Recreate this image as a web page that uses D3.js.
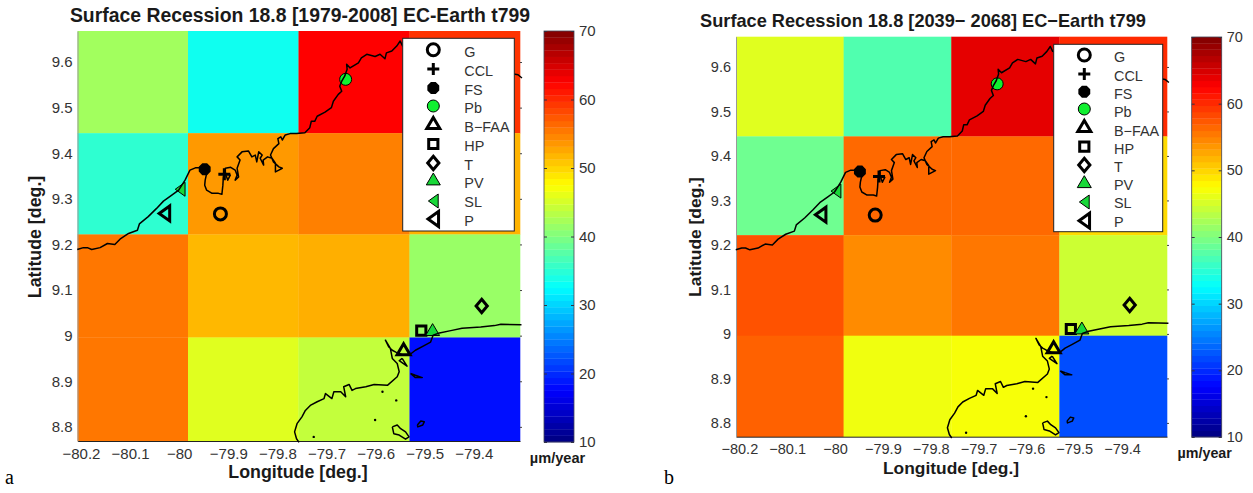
<!DOCTYPE html>
<html>
<head>
<meta charset="utf-8">
<script src="https://cdn.jsdelivr.net/npm/d3@7"></script>
<style>
  html, body { margin: 0; padding: 0; background: #fff; }
  svg { display: block; }
  text { font-family: "Liberation Sans", Arial, sans-serif; }
</style>
</head>
<body>
<div id="chart"></div>
<script>
// grid cell edges, degrees
var lonEdges = [-80.207, -79.982, -79.757, -79.531, -79.306];
var latEdges = [9.668, 9.444, 9.222, 8.996, 8.769];

// surface recession per grid cell, um/year, north to south
var recessionA = [
  [42, 33.4, 62.5, 59.5],
  [35.2, 53.5, 55, 52],
  [55.5, 51.7, 52.2, 41.5],
  [55.5, 45.7, 44, 18.3]
];
var recessionB = [
  [45.7, 37.2, 64, 60],
  [39, 56.3, 56.3, 49.7],
  [57.7, 54.3, 55.5, 44.5],
  [56.8, 46.6, 47, 22]
];

var lonTicks = [-80.2, -80.1, -80, -79.9, -79.8, -79.7, -79.6, -79.5, -79.4];
var latTicks = [8.8, 8.9, 9, 9.1, 9.2, 9.3, 9.4, 9.5, 9.6];
var barTicks = [10, 20, 30, 40, 50, 60, 70];

var siteNames = ["G", "CCL", "FS", "Pb", "B\u2212FAA", "HP", "T", "PV", "SL", "P"];
var siteLons = [-79.916, -79.908, -79.948, -79.661, -79.543, -79.507, -79.384, -79.484, -79.998, -80.030];
var siteLats = [9.267, 9.354, 9.365, 9.562, 8.968, 9.011, 9.065, 9.011, 9.321, 9.268];

// coast, lon/lat pairs
var coastNorth = [
  [-80.2075,9.189],[-80.195,9.193],[-80.187,9.193],[-80.178,9.189],[-80.161,9.193],[-80.146,9.202],
  [-80.131,9.200],[-80.119,9.213],[-80.103,9.224],[-80.085,9.231],[-80.081,9.245],[-80.063,9.261],
  [-80.046,9.279],[-80.032,9.295],[-80.015,9.308],[-80.001,9.319],[-79.988,9.341],[-79.978,9.363],
  [-79.967,9.368],[-79.957,9.368],[-79.949,9.368],[-79.944,9.356],[-79.947,9.341],[-79.948,9.330],
  [-79.944,9.319],[-79.933,9.312],[-79.920,9.312],[-79.913,9.310],[-79.911,9.330],[-79.910,9.348],
  [-79.906,9.356],[-79.901,9.341],[-79.896,9.352],[-79.906,9.356],[-79.906,9.367],[-79.895,9.369],
  [-79.886,9.363],[-79.882,9.352],[-79.886,9.341],[-79.879,9.348],[-79.882,9.367],[-79.876,9.385],
  [-79.882,9.392],[-79.872,9.403],[-79.859,9.405],[-79.852,9.392],[-79.845,9.396],[-79.842,9.381],
  [-79.838,9.403],[-79.831,9.396],[-79.835,9.389],[-79.828,9.374],[-79.829,9.385],[-79.820,9.392],
  [-79.811,9.389],[-79.804,9.378],[-79.804,9.359],[-79.797,9.363],[-79.790,9.367],[-79.797,9.370],
  [-79.808,9.381],[-79.814,9.396],[-79.808,9.410],[-79.797,9.421],[-79.799,9.432],[-79.793,9.436],
  [-79.790,9.429],[-79.784,9.440],[-79.774,9.443],[-79.761,9.443],[-79.744,9.445],[-79.734,9.456],
  [-79.731,9.470],[-79.724,9.470],[-79.719,9.481],[-79.703,9.490],[-79.690,9.500],[-79.686,9.514],
  [-79.676,9.529],[-79.669,9.536],[-79.673,9.547],[-79.669,9.558],[-79.663,9.569],[-79.658,9.584],
  [-79.659,9.595],[-79.652,9.587],[-79.635,9.598],[-79.629,9.609],[-79.618,9.617],[-79.601,9.612],
  [-79.591,9.617],[-79.581,9.607],[-79.578,9.620],[-79.567,9.624],[-79.557,9.635],[-79.550,9.646],
  [-79.545,9.635],[-79.45,9.60],[-79.31,9.572],[-79.302,9.565]
];
var coastSouth = [
  [-79.303,9.024],[-79.345,9.025],[-79.358,9.022],[-79.386,9.019],[-79.424,9.016],[-79.447,9.011],
  [-79.470,9.006],[-79.483,9.001],[-79.488,8.986],[-79.505,8.976],[-79.519,8.968],[-79.532,8.957],
  [-79.546,8.958],[-79.559,8.964],[-79.566,8.968],[-79.573,8.975],[-79.580,8.990],[-79.570,8.972],
  [-79.566,8.950],[-79.556,8.939],[-79.552,8.921],[-79.556,8.910],[-79.576,8.891],[-79.603,8.893],
  [-79.620,8.888],[-79.641,8.884],[-79.648,8.880],[-79.654,8.893],[-79.665,8.888],[-79.661,8.866],
  [-79.671,8.877],[-79.685,8.877],[-79.689,8.862],[-79.702,8.873],[-79.705,8.862],[-79.719,8.855],
  [-79.733,8.847],[-79.743,8.836],[-79.750,8.822],[-79.760,8.807],[-79.765,8.789],[-79.761,8.774],
  [-79.756,8.766]
];
var islandOne = [[-79.566,8.800],[-79.556,8.804],[-79.549,8.796],[-79.539,8.789],[-79.532,8.778],[-79.539,8.773],[-79.552,8.782],[-79.563,8.785],[-79.566,8.800]];
var islandTwo = [[-79.515,8.804],[-79.508,8.813],[-79.501,8.811],[-79.504,8.804],[-79.514,8.800],[-79.515,8.804]];
var islandThree = [[-79.529,8.917],[-79.519,8.908],[-79.505,8.908],[-79.519,8.913],[-79.529,8.917]];
var islandFour = [[-79.546,8.950],[-79.536,8.933],[-79.552,8.945],[-79.546,8.950]];
var islets = [[-79.586,8.877],[-79.558,8.858],[-79.601,8.815],[-79.726,8.778]];

var W = 1253, H = 493;

var panels = [
  {
    values: recessionA,
    plot: {x0: 77.5, x1: 520, y0: 31, y1: 441},
    bar: {x0: 544, x1: 574, y0: 31, y1: 442},
    tickFont: "15px",
    title: "Surface Recession 18.8 [1979-2008] EC-Earth t799", titleX: 300, titleY: 22, titleFont: "19.4px",
    xLabelX: 298, xLabelY: 478, yLabelX: 41, yLabelY: 237, labelFont: "17.8px",
    unitX: 557.5, unitY: 463, unitFont: "14.6px",
    letter: "a", letterX: 5, letterY: 484,
    legend: {x0: 402.7, x1: 514.3, y0: 38.3, y1: 231, symX: 433.3, txtX: 464.3,
      symY: [49.7, 69, 88, 106, 124, 144, 163, 180, 201, 219],
      txtY: [52, 71, 90, 108, 127, 146, 165, 183, 202, 221]}
  },
  {
    values: recessionB,
    plot: {x0: 736, x1: 1167, y0: 36.7, y1: 436.7},
    bar: {x0: 1191.7, x1: 1221.7, y0: 37, y1: 437},
    tickFont: "14.5px",
    title: "Surface Recession 18.8 [2039\u2212 2068] EC\u2212Earth t799", titleX: 923, titleY: 27, titleFont: "18.2px",
    xLabelX: 951, xLabelY: 474, yLabelX: 701, yLabelY: 237, labelFont: "17.4px",
    unitX: 1204.7, unitY: 458, unitFont: "14.3px",
    letter: "b", letterX: 664, letterY: 484,
    legend: {x0: 1053.7, x1: 1162.7, y0: 44.3, y1: 231.7, symX: 1084.3, txtX: 1114,
      symY: [55, 74, 91.7, 109, 127, 146.7, 165, 182.7, 202, 220.7],
      txtY: [56.7, 75.7, 94, 112, 130.7, 149, 166.7, 185, 203, 221.7]}
  }
];

// matlab jet
function jet(t) {
  function c(d) { return Math.round(255 * Math.max(0, Math.min(1, 1.5 - Math.abs(4 * t - d)))); }
  return d3.rgb(c(3), c(2), c(1)).formatHex();
}
var barColor = d3.scaleLinear().domain([10, 70]).range([0, 1]);

// marker outlines; size is used as a radius
function poly(pts) {
  return {draw: function(ctx, r) {
    pts.forEach(function(p, i) {
      if (i == 0) ctx.moveTo(p[0] * r, p[1] * r); else ctx.lineTo(p[0] * r, p[1] * r);
    });
    ctx.closePath();
  }};
}
var circleShape = {draw: function(ctx, r) { ctx.moveTo(r, 0); ctx.arc(0, 0, r, 0, 2 * Math.PI); }};
var plusShape = {draw: function(ctx, r) { ctx.moveTo(-r, 0); ctx.lineTo(r, 0); ctx.moveTo(0, -r); ctx.lineTo(0, r); }};

var siteStyles = [
  {shape: circleShape, r: 6, fill: "none", sw: 3},
  {shape: plusShape, r: 6, fill: "none", sw: 3},
  {shape: poly([[-0.4, -1], [0.4, -1], [1, -0.4], [1, 0.4], [0.4, 1], [-0.4, 1], [-1, 0.4], [-1, -0.4]]), r: 5.2, fill: "#000", sw: 1.5},
  {shape: circleShape, r: 6, fill: "#10f030", sw: 1},
  {shape: poly([[0, -1], [1, 0.7], [-1, 0.7]]), r: 6.5, fill: "none", sw: 3},
  {shape: poly([[-1, -1], [1, -1], [1, 1], [-1, 1]]), r: 4.6, fill: "none", sw: 3},
  {shape: poly([[0, -1.2], [1, 0], [0, 1.2], [-1, 0]]), r: 5.6, fill: "none", sw: 3},
  {shape: poly([[0, -1], [1, 0.7], [-1, 0.7]]), r: 7, fill: "#18d838", sw: 1},
  {shape: poly([[-0.7, 0], [0.7, -1], [0.7, 1]]), r: 7, fill: "#18d838", sw: 1},
  {shape: poly([[-0.7, 0], [0.7, -1], [0.7, 1]]), r: 7.5, fill: "none", sw: 3}
];

function siteMark(sel, i, px, py) {
  var st = siteStyles[i];
  sel.append("path")
    .attr("d", d3.symbol().type(st.shape).size(st.r)())
    .attr("transform", "translate(" + px + "," + py + ")")
    .attr("fill", st.fill)
    .attr("stroke", "#000")
    .attr("stroke-width", st.sw)
    .attr("stroke-linejoin", "miter");
}

var svg = d3.select("#chart").append("svg").attr("width", W).attr("height", H);

function drawPanel(cfg) {
  var g = svg.append("g");
  var x = d3.scaleLinear().domain([lonEdges[0], lonEdges[4]]).range([cfg.plot.x0, cfg.plot.x1]);
  var y = d3.scaleLinear().domain([latEdges[0], latEdges[4]]).range([cfg.plot.y0, cfg.plot.y1]);

  // cells
  cfg.values.forEach(function(row, r) {
    g.selectAll(null).data(row).enter().append("rect")
      .attr("x", function(d, c) { return x(lonEdges[c]); })
      .attr("y", y(latEdges[r]))
      .attr("width", function(d, c) { return x(lonEdges[c + 1]) - x(lonEdges[c]) + 0.3; })
      .attr("height", y(latEdges[r + 1]) - y(latEdges[r]) + 0.3)
      .attr("fill", function(d) { return jet(barColor(d)); });
  });

  // axes
  var fmt = d3.format("");
  var xAxis = g.append("g").attr("transform", "translate(0," + cfg.plot.y1 + ")")
    .call(d3.axisBottom(x).tickValues(lonTicks).tickFormat(fmt).tickSize(0).tickPadding(7));
  var yAxis = g.append("g").attr("transform", "translate(" + cfg.plot.x0 + ",0)")
    .call(d3.axisLeft(y).tickValues(latTicks).tickFormat(fmt).tickSize(0).tickPadding(5));
  var rAxis = g.append("g").attr("transform", "translate(" + cfg.plot.x1 + ",0)")
    .call(d3.axisRight(y).tickValues(latTicks).tickFormat("").tickSize(2));
  [xAxis, yAxis].forEach(function(a) {
    a.selectAll("text").style("font-size", cfg.tickFont).style("font-family", "Liberation Sans").attr("fill", "#333");
  });
  xAxis.select(".domain").attr("stroke", "#222");
  yAxis.select(".domain").attr("stroke", "#999");
  rAxis.select(".domain").remove();
  rAxis.selectAll("line").attr("stroke", "#444");

  // sites then coast on top
  var marks = g.append("g");
  siteNames.forEach(function(n, i) { siteMark(marks, i, x(siteLons[i]), y(siteLats[i])); });

  var line = d3.line().x(function(d) { return x(d[0]); }).y(function(d) { return y(d[1]); });
  [coastNorth, coastSouth, islandOne, islandTwo, islandThree, islandFour].forEach(function(c) {
    g.append("path").attr("d", line(c)).attr("fill", "none")
      .attr("stroke", "#000").attr("stroke-width", 1.5).attr("stroke-linejoin", "round");
  });
  g.selectAll(null).data(islets).enter().append("circle")
    .attr("cx", function(d) { return x(d[0]); })
    .attr("cy", function(d) { return y(d[1]); })
    .attr("r", 1.2).attr("fill", "#000");

  // legend
  var L = cfg.legend;
  var leg = g.append("g");
  leg.append("rect").attr("x", L.x0).attr("y", L.y0)
    .attr("width", L.x1 - L.x0).attr("height", L.y1 - L.y0)
    .attr("fill", "#fff").attr("stroke", "#222").attr("stroke-width", 1);
  siteNames.forEach(function(n, i) {
    siteMark(leg, i, L.symX, L.symY[i]);
    leg.append("text").attr("x", L.txtX).attr("y", L.txtY[i]).attr("dy", "0.36em")
      .attr("fill", "#333").style("font-size", "14.4px").text(n);
  });

  // colour bar
  var by = d3.scaleLinear().domain([10, 70]).range([cfg.bar.y1, cfg.bar.y0]);
  var levels = d3.range(64);
  var step = 60 / 64;
  g.selectAll(null).data(levels).enter().append("rect")
    .attr("x", cfg.bar.x0)
    .attr("width", cfg.bar.x1 - cfg.bar.x0)
    .attr("y", function(d) { return by(10 + (d + 1) * step); })
    .attr("height", function(d) { return by(10 + d * step) - by(10 + (d + 1) * step) + 0.3; })
    .attr("fill", function(d) { return jet((d + 0.5) / 64); });
  g.append("rect").attr("x", cfg.bar.x0).attr("y", cfg.bar.y0)
    .attr("width", cfg.bar.x1 - cfg.bar.x0).attr("height", cfg.bar.y1 - cfg.bar.y0)
    .attr("fill", "none").attr("stroke", "#445").attr("stroke-width", 0.8);
  var bAxis = g.append("g").attr("transform", "translate(" + cfg.bar.x1 + ",0)")
    .call(d3.axisRight(by).tickValues(barTicks).tickFormat(fmt).tickSizeInner(-3).tickSizeOuter(0).tickPadding(5));
  bAxis.select(".domain").remove();
  bAxis.selectAll("line").attr("stroke", "#334");
  bAxis.selectAll("text").style("font-size", cfg.tickFont).style("font-family", "Liberation Sans").attr("fill", "#333");
  var bAxisL = g.append("g").attr("transform", "translate(" + cfg.bar.x0 + ",0)")
    .call(d3.axisLeft(by).tickValues(barTicks).tickFormat("").tickSizeInner(-3).tickSizeOuter(0));
  bAxisL.select(".domain").remove();
  bAxisL.selectAll("line").attr("stroke", "#334");

  // labels
  g.append("text").attr("x", cfg.titleX).attr("y", cfg.titleY).attr("text-anchor", "middle")
    .attr("fill", "#1a1a1a").style("font-size", cfg.titleFont).style("font-weight", "bold").text(cfg.title);
  g.append("text").attr("x", cfg.xLabelX).attr("y", cfg.xLabelY).attr("text-anchor", "middle")
    .attr("fill", "#1a1a1a").style("font-size", cfg.labelFont).style("font-weight", "bold").text("Longitude [deg.]");
  g.append("text").attr("transform", "translate(" + cfg.yLabelX + "," + cfg.yLabelY + ") rotate(-90)")
    .attr("text-anchor", "middle").attr("fill", "#1a1a1a")
    .style("font-size", cfg.labelFont).style("font-weight", "bold").text("Latitude [deg.]");
  g.append("text").attr("x", cfg.unitX).attr("y", cfg.unitY).attr("text-anchor", "middle")
    .attr("fill", "#1a1a1a").style("font-size", cfg.unitFont).style("font-weight", "bold").text("\u00b5m/year");
  g.append("text").attr("x", cfg.letterX).attr("y", cfg.letterY)
    .attr("fill", "#000").style("font-family", "Liberation Serif").style("font-size", "20px").text(cfg.letter);
}

panels.forEach(drawPanel);
</script>
</body>
</html>
